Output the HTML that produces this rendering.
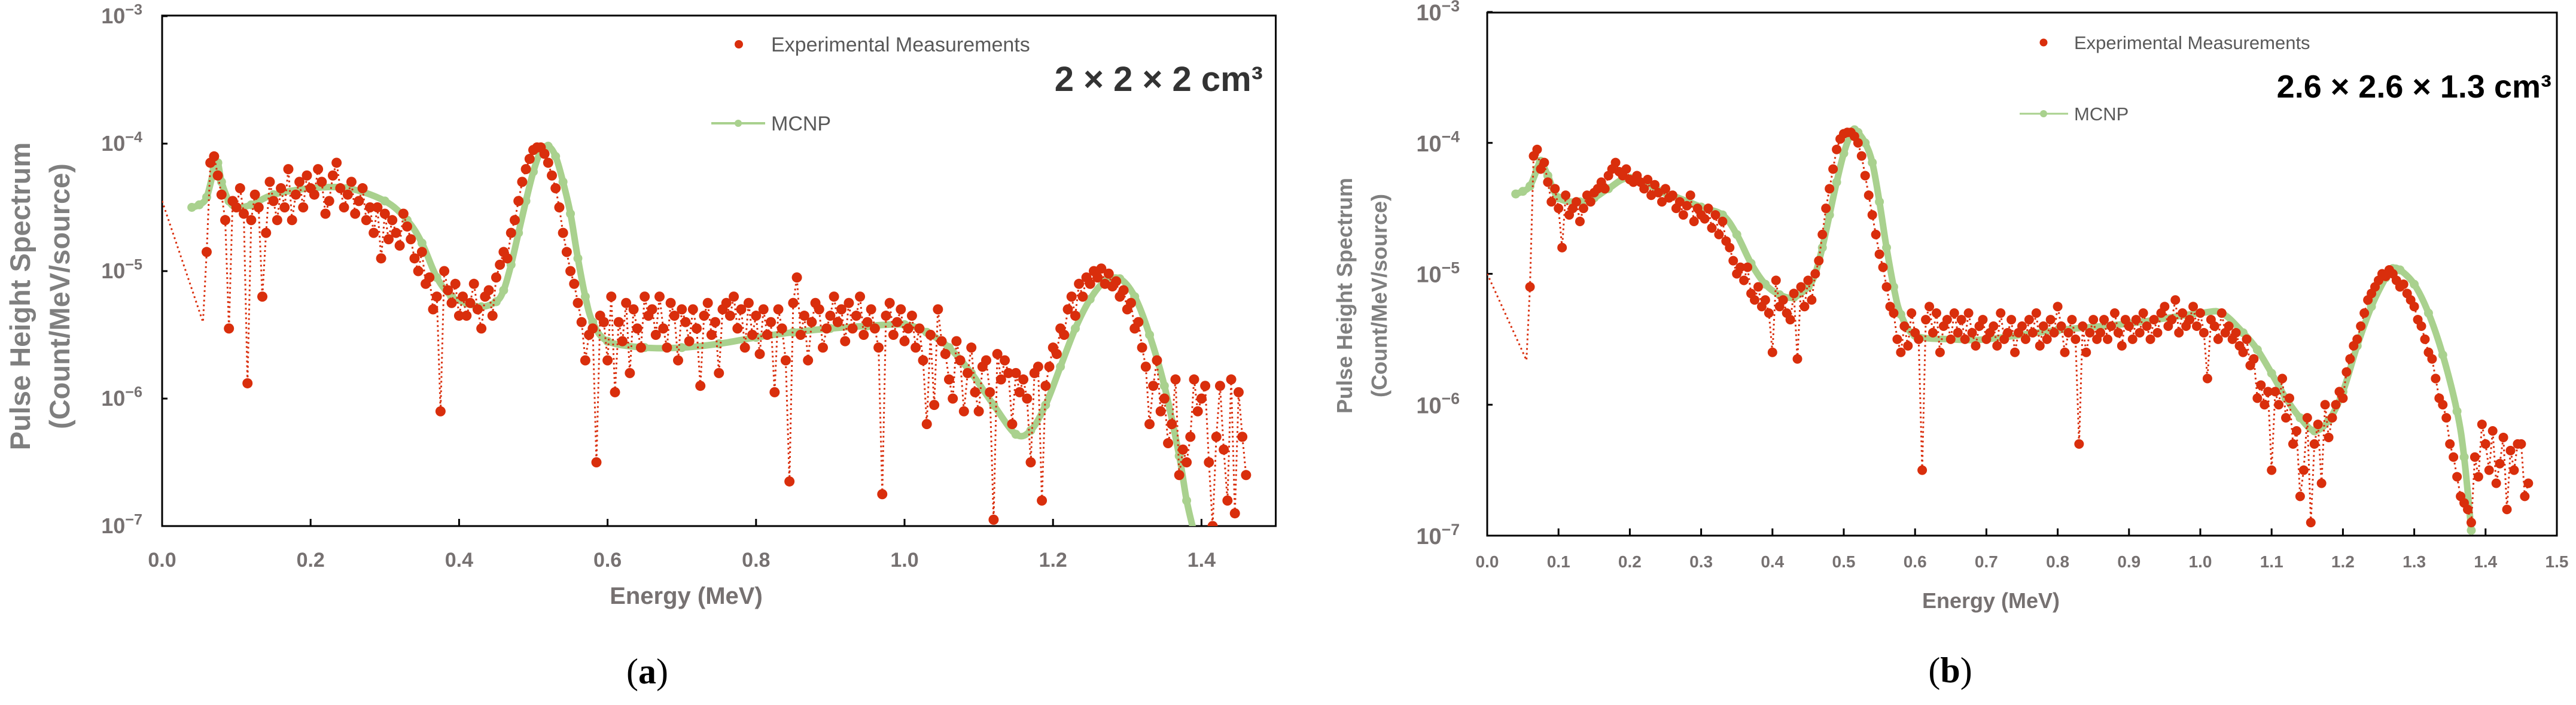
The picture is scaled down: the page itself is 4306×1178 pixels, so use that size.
<!DOCTYPE html>
<html><head><meta charset="utf-8">
<style>
html,body{margin:0;padding:0;background:#fff;}
body{width:4306px;height:1178px;overflow:hidden;position:relative;font-family:"Liberation Sans",sans-serif;}
svg{position:absolute;left:0;top:0;}
</style></head>
<body>
<svg id="fig" width="4306" height="1178" viewBox="0 0 4306 1178"></svg>
<script>
// ---------- Chart (a) data ----------
const aTickX = ["0.0","0.2","0.4","0.6","0.8","1.0","1.2","1.4"];
const aTickXVal = [0,0.2,0.4,0.6,0.8,1.0,1.2,1.4];
const aTickYExp = [-3,-4,-5,-6,-7];
const aMcnpE = [0.04,0.05,0.06,0.07,0.075,0.08,0.09,0.1,0.12,0.15,0.2,0.25,0.3,0.33,0.35,0.37,0.39,0.41,0.43,0.45,0.46,0.47,0.48,0.49,0.5,0.51,0.52,0.53,0.54,0.55,0.56,0.57,0.58,0.6,0.65,0.7,0.75,0.8,0.85,0.9,0.95,1.0,1.03,1.06,1.09,1.12,1.15,1.17,1.19,1.21,1.23,1.25,1.27,1.29,1.31,1.33,1.35,1.37,1.38,1.39];
const aMcnpLog = [-4.5,-4.48,-4.42,-4.2,-4.15,-4.3,-4.45,-4.5,-4.48,-4.4,-4.35,-4.35,-4.45,-4.6,-4.78,-5.05,-5.2,-5.25,-5.28,-5.24,-5.15,-4.95,-4.7,-4.45,-4.22,-4.06,-4.02,-4.1,-4.3,-4.55,-4.9,-5.2,-5.4,-5.55,-5.6,-5.6,-5.57,-5.52,-5.48,-5.45,-5.43,-5.42,-5.48,-5.6,-5.8,-6.05,-6.28,-6.25,-6.05,-5.75,-5.45,-5.22,-5.08,-5.06,-5.2,-5.5,-5.9,-6.45,-6.8,-7.05];
const aExpStart = 0.06, aExpStep = 0.005;
const aExpLog = [
-4.85,-4.15,-4.1,-4.25,-4.4,-4.6,-5.45,-4.45,-4.5,-4.35,
-4.55,-5.88,-4.6,-4.4,-4.5,-5.2,-4.7,-4.3,-4.45,-4.6,
-4.35,-4.5,-4.2,-4.6,-4.4,-4.3,-4.5,-4.25,-4.35,-4.4,
-4.2,-4.3,-4.55,-4.45,-4.25,-4.15,-4.35,-4.5,-4.4,-4.3,
-4.55,-4.45,-4.35,-4.6,-4.5,-4.7,-4.5,-4.9,-4.55,-4.75,
-4.6,-4.7,-4.8,-4.55,-4.65,-4.75,-4.9,-5.0,-4.85,-5.1,
-5.05,-5.3,-5.2,-6.1,-5.0,-5.15,-5.25,-5.1,-5.35,-5.2,
-5.35,-5.25,-5.1,-5.3,-5.45,-5.2,-5.15,-5.35,-5.05,-4.95,
-4.85,-4.9,-4.7,-4.6,-4.45,-4.3,-4.2,-4.12,-4.05,-4.03,
-4.03,-4.08,-4.15,-4.25,-4.35,-4.5,-4.7,-4.85,-5.0,-5.1,
-5.25,-5.4,-5.7,-5.5,-5.45,-6.5,-5.35,-5.4,-5.7,-5.2,
-5.95,-5.4,-5.55,-5.25,-5.8,-5.3,-5.45,-5.6,-5.2,-5.35,
-5.3,-5.5,-5.2,-5.45,-5.6,-5.25,-5.35,-5.7,-5.3,-5.4,
-5.55,-5.3,-5.45,-5.9,-5.35,-5.25,-5.5,-5.4,-5.8,-5.3,
-5.25,-5.35,-5.2,-5.45,-5.3,-5.6,-5.25,-5.5,-5.35,-5.65,
-5.3,-5.5,-5.4,-5.95,-5.3,-5.45,-5.7,-6.65,-5.25,-5.05,
-5.5,-5.35,-5.7,-5.4,-5.25,-5.3,-5.6,-5.45,-5.35,-5.2,
-5.4,-5.3,-5.55,-5.25,-5.45,-5.35,-5.2,-5.5,-5.4,-5.3,
-5.45,-5.6,-6.75,-5.35,-5.25,-5.5,-5.4,-5.3,-5.55,-5.45,
-5.35,-5.6,-5.45,-5.7,-6.2,-5.5,-6.05,-5.3,-5.55,-5.65,
-5.85,-6.0,-5.55,-5.7,-6.1,-5.8,-5.6,-5.95,-6.1,-5.75,
-5.7,-5.95,-6.95,-5.65,-5.85,-5.7,-5.8,-6.2,-5.8,-5.95,
-5.85,-6.0,-6.5,-5.8,-5.75,-6.8,-5.9,-5.75,-5.6,-5.65,
-5.45,-5.5,-5.3,-5.2,-5.35,-5.1,-5.2,-5.05,-5.1,-5.0,
-5.05,-4.98,-5.1,-5.02,-5.12,-5.08,-5.2,-5.15,-5.3,-5.25,
-5.45,-5.4,-5.6,-5.75,-6.2,-5.9,-5.7,-6.1,-6.0,-6.35,
-6.2,-5.85,-6.6,-6.4,-6.5,-6.3,-5.85,-6.1,-6.0,-5.9,
-6.5,-7.0,-6.3,-5.9,-6.4,-6.8,-5.85,-6.9,-5.95,-6.3,
-6.6];
const aLeadE = [0.0,0.055];
const aLeadLog = [-4.45,-5.4];

// ---------- Chart (b) data ----------
const bTickX = ["0.0","0.1","0.2","0.3","0.4","0.5","0.6","0.7","0.8","0.9","1.0","1.1","1.2","1.3","1.4","1.5"];
const bTickXVal = [0,0.1,0.2,0.3,0.4,0.5,0.6,0.7,0.8,0.9,1.0,1.1,1.2,1.3,1.4,1.5];
const bTickYExp = [-3,-4,-5,-6,-7];
const bMcnpE = [0.04,0.05,0.06,0.07,0.075,0.085,0.1,0.13,0.15,0.17,0.2,0.25,0.3,0.33,0.35,0.37,0.39,0.41,0.43,0.45,0.46,0.47,0.48,0.49,0.5,0.51,0.515,0.52,0.53,0.54,0.55,0.56,0.57,0.58,0.6,0.65,0.7,0.8,0.9,1.0,1.03,1.06,1.08,1.1,1.12,1.14,1.16,1.18,1.2,1.22,1.24,1.26,1.27,1.28,1.3,1.32,1.34,1.36,1.37,1.38];
const bMcnpLog = [-4.39,-4.37,-4.33,-4.2,-4.14,-4.25,-4.42,-4.45,-4.42,-4.35,-4.27,-4.38,-4.49,-4.55,-4.7,-4.92,-5.08,-5.16,-5.18,-5.1,-5.0,-4.8,-4.55,-4.3,-4.08,-3.93,-3.9,-3.92,-4.0,-4.15,-4.45,-4.8,-5.1,-5.31,-5.47,-5.5,-5.5,-5.43,-5.38,-5.3,-5.3,-5.45,-5.58,-5.76,-5.95,-6.1,-6.2,-6.12,-5.9,-5.55,-5.25,-5.03,-4.96,-4.97,-5.08,-5.3,-5.62,-6.05,-6.4,-6.96];
const bExpStart = 0.06, bExpStep = 0.005;
const bExpLog = [
-5.1,-4.1,-4.05,-4.2,-4.15,-4.3,-4.45,-4.35,-4.5,-4.8,
-4.4,-4.55,-4.5,-4.45,-4.6,-4.5,-4.4,-4.45,-4.38,-4.35,
-4.3,-4.35,-4.25,-4.2,-4.15,-4.22,-4.25,-4.2,-4.28,-4.3,
-4.25,-4.3,-4.35,-4.28,-4.4,-4.32,-4.38,-4.45,-4.35,-4.42,
-4.4,-4.5,-4.45,-4.55,-4.48,-4.4,-4.6,-4.5,-4.55,-4.58,
-4.5,-4.65,-4.55,-4.7,-4.6,-4.75,-4.8,-4.9,-5.0,-4.95,
-5.05,-4.95,-5.15,-5.2,-5.1,-5.25,-5.2,-5.3,-5.6,-5.05,
-5.25,-5.2,-5.3,-5.35,-5.15,-5.65,-5.1,-5.25,-5.05,-5.2,
-5.0,-4.9,-4.7,-4.5,-4.35,-4.2,-4.05,-3.97,-3.93,-3.92,
-3.92,-3.95,-4.0,-4.1,-4.25,-4.4,-4.55,-4.7,-4.85,-4.95,
-5.1,-5.25,-5.3,-5.5,-5.6,-5.4,-5.55,-5.3,-5.45,-5.5,
-6.5,-5.35,-5.25,-5.45,-5.3,-5.6,-5.4,-5.35,-5.5,-5.3,
-5.45,-5.35,-5.5,-5.3,-5.45,-5.55,-5.4,-5.35,-5.5,-5.45,
-5.4,-5.55,-5.3,-5.5,-5.45,-5.35,-5.6,-5.45,-5.4,-5.5,
-5.35,-5.45,-5.3,-5.55,-5.4,-5.5,-5.35,-5.45,-5.25,-5.4,
-5.6,-5.45,-5.35,-5.5,-6.3,-5.4,-5.6,-5.45,-5.35,-5.5,
-5.45,-5.35,-5.5,-5.4,-5.3,-5.45,-5.55,-5.35,-5.4,-5.5,
-5.35,-5.45,-5.3,-5.4,-5.5,-5.35,-5.45,-5.3,-5.25,-5.4,
-5.35,-5.2,-5.45,-5.3,-5.4,-5.35,-5.25,-5.4,-5.3,-5.45,
-5.8,-5.35,-5.4,-5.5,-5.3,-5.45,-5.4,-5.5,-5.45,-5.55,
-5.6,-5.5,-5.7,-5.65,-5.95,-5.85,-6.0,-5.9,-6.5,-5.9,
-6.0,-5.8,-6.1,-5.95,-6.3,-6.2,-6.7,-6.5,-6.1,-6.9,
-6.3,-6.15,-6.6,-6.0,-6.25,-6.1,-6.0,-5.9,-5.95,-5.75,
-5.65,-5.55,-5.5,-5.4,-5.3,-5.2,-5.15,-5.1,-5.05,-5.0,
-5.02,-4.97,-5.0,-5.05,-5.1,-5.08,-5.15,-5.2,-5.25,-5.35,
-5.4,-5.5,-5.6,-5.65,-5.8,-5.95,-6.0,-6.1,-6.3,-6.4,
-6.55,-6.7,-6.75,-6.8,-6.9,-6.4,-6.55,-6.15,-6.3,-6.5,
-6.2,-6.6,-6.45,-6.25,-6.8,-6.35,-6.5,-6.3,-6.3,-6.7,
-6.6];
const bLeadE = [0.0,0.055];
const bLeadLog = [-5.0,-5.66];

const NS = "http://www.w3.org/2000/svg";
const svg = document.getElementById("fig");
function mk(tag, attrs, parent){
  const e = document.createElementNS(NS, tag);
  for (const k in attrs) e.setAttribute(k, attrs[k]);
  (parent||svg).appendChild(e);
  return e;
}
const RED = "#d92e0c", GREEN = "#a9d18e", GRAY = "#767171";

function smoothPath(p){
  let d = "M" + p[0][0].toFixed(1) + "," + p[0][1].toFixed(1);
  for (let i = 0; i < p.length - 1; i++){
    const p0 = p[Math.max(0, i - 1)], p1 = p[i], p2 = p[i + 1], p3 = p[Math.min(p.length - 1, i + 2)];
    const c1x = p1[0] + (p2[0] - p0[0]) / 6, c1y = p1[1] + (p2[1] - p0[1]) / 6;
    const c2x = p2[0] - (p3[0] - p1[0]) / 6, c2y = p2[1] - (p3[1] - p1[1]) / 6;
    d += " C" + c1x.toFixed(1) + "," + c1y.toFixed(1) + " " + c2x.toFixed(1) + "," + c2y.toFixed(1) + " " + p2[0].toFixed(1) + "," + p2[1].toFixed(1);
  }
  return d;
}

function drawChart(c){
  const g = mk("g", {});
  
  
  const sx = e => c.x0 + e * c.pxPerMeV;
  const sy = l => c.yTop + (-3 - l) * c.decade;
  const bottom = sy(-7);
  const right = sx(1.5);
  const defs = mk("defs", {}, g);
  const cp = mk("clipPath", {id: c.id + "clip"}, defs);
  mk("rect", {x: c.x0, y: c.frameTop, width: right - c.x0, height: bottom - c.frameTop}, cp);

  const fr = mk("rect", {x: c.x0, y: c.frameTop, width: right - c.x0, height: bottom - c.frameTop, fill: "none", stroke: "#000", "stroke-width": 3}, g);
  
  

  c.tickY.forEach(ex => {
    const y = sy(ex);
    mk("line", {x1: c.x0, x2: c.x0 + 9, y1: y, y2: y, stroke: "#000", "stroke-width": 3}, g);
    const t = mk("text", {x: c.yLabX, y: y + c.yLabDy, "text-anchor": "end", fill: GRAY, "font-size": c.yLabFs, "font-weight": "bold", "font-family": "Liberation Sans, sans-serif"}, g);
    
    
    t.appendChild(document.createTextNode("10"));
    const sp = mk("tspan", {dy: -c.yLabFs * 0.4, "font-size": c.yLabFs * 0.7}, t);
    sp.textContent = "\u2212" + Math.abs(ex);
  });
  c.tickXVal.forEach((v, i) => {
    const x = sx(v);
    if (i > 0) mk("line", {x1: x, x2: x, y1: bottom, y2: bottom - 12, stroke: "#000", "stroke-width": 3}, g);
    const t = mk("text", {x: x, y: c.xLabY, "text-anchor": "middle", fill: GRAY, "font-size": c.xLabFs, "font-weight": "bold", "font-family": "Liberation Sans, sans-serif"}, g);
    
    
    t.textContent = c.tickX[i];
  });

  const pg = mk("g", {"clip-path": "url(#" + c.id + "clip)"}, g);
  const mp = c.mcnpE.map((e, i) => [sx(e), sy(c.mcnpLog[i])]);
  const ml = mk("path", {d: smoothPath(mp), fill: "none", stroke: GREEN, "stroke-width": 11, "stroke-linejoin": "round", "stroke-linecap": "round"}, pg);
  
  
  c.mcnpE.forEach((e, i) => {
    const d = mk("circle", {cx: sx(e), cy: sy(c.mcnpLog[i]), r: 7.5, fill: GREEN}, pg);
    
    
  });
  const epts = [];
  c.leadE.forEach((e, i) => epts.push(sx(e).toFixed(1) + "," + sy(c.leadLog[i]).toFixed(1)));
  c.expLog.forEach((l, i) => epts.push(sx(c.expStart + i * c.expStep).toFixed(1) + "," + sy(l).toFixed(1)));
  const el = mk("polyline", {points: epts.join(" "), fill: "none", stroke: RED, "stroke-width": 3, "stroke-dasharray": "3 5"}, pg);
  
  
  c.expLog.forEach((l, i) => {
    const d = mk("circle", {cx: sx(c.expStart + i * c.expStep), cy: sy(l), r: c.dotR, fill: RED}, pg);
    
    
  });
}

drawChart({id:"a", x0:271, pxPerMeV:1241, yTop:27, decade:213, frameTop:26,
  tickX:aTickX, tickXVal:aTickXVal, tickY:aTickYExp, yLabX:238, yLabDy:12, yLabFs:36, xLabY:947, xLabFs:34,
  mcnpE:aMcnpE, mcnpLog:aMcnpLog, expStart:aExpStart, expStep:aExpStep, expLog:aExpLog, leadE:aLeadE, leadLog:aLeadLog, dotR:8.5});
drawChart({id:"b", x0:2486, pxPerMeV:1192, yTop:20, decade:218.75, frameTop:21,
  tickX:bTickX, tickXVal:bTickXVal, tickY:bTickYExp, yLabX:2440, yLabDy:14, yLabFs:38, xLabY:948, xLabFs:28,
  mcnpE:bMcnpE, mcnpLog:bMcnpLog, expStart:bExpStart, expStep:bExpStep, expLog:bExpLog, leadE:bLeadE, leadLog:bLeadLog, dotR:8});
</script>
<svg width="4306" height="1178" viewBox="0 0 4306 1178" style="pointer-events:none">
  <g font-family="Liberation Sans, sans-serif" font-weight="bold" fill="#7f7f7f">
    <text transform="translate(50,495) rotate(-90)" text-anchor="middle" font-size="47">Pulse Height Spectrum</text>
    <text transform="translate(116,495) rotate(-90)" text-anchor="middle" font-size="47">(Count/MeV/source)</text>
  </g>
  <text x="1147" y="1009" text-anchor="middle" font-family="Liberation Sans, sans-serif" font-weight="bold" font-size="40" fill="#767171">Energy (MeV)</text>
  <g font-family="Liberation Sans, sans-serif" font-size="34" fill="#595959">
    <circle cx="1235" cy="74" r="7" fill="#d92e0c"/>
    <text x="1289" y="86">Experimental Measurements</text>
    <line x1="1189" x2="1279" y1="206" y2="206" stroke="#a9d18e" stroke-width="4"/>
    <circle cx="1234" cy="206" r="6" fill="#a9d18e"/>
    <text x="1289" y="218">MCNP</text>
  </g>
  <text x="2111" y="152" text-anchor="end" font-family="Liberation Sans, sans-serif" font-weight="bold" font-size="58" fill="#333">2 × 2 × 2 cm³</text>
  <text x="1082" y="1142" text-anchor="middle" font-family="Liberation Serif, serif" font-size="60" fill="#000">(<tspan font-weight="bold">a</tspan>)</text>

  <g font-family="Liberation Sans, sans-serif" font-weight="bold" fill="#7f7f7f">
    <text transform="translate(2260,494) rotate(-90)" text-anchor="middle" font-size="36">Pulse Height Spectrum</text>
    <text transform="translate(2318,494) rotate(-90)" text-anchor="middle" font-size="36">(Count/MeV/source)</text>
  </g>
  <text x="3328" y="1016" text-anchor="middle" font-family="Liberation Sans, sans-serif" font-weight="bold" font-size="36" fill="#767171">Energy (MeV)</text>
  <g font-family="Liberation Sans, sans-serif" font-size="31" fill="#595959">
    <circle cx="3416" cy="71" r="6.5" fill="#d92e0c"/>
    <text x="3467" y="82">Experimental Measurements</text>
    <line x1="3376" x2="3457" y1="190" y2="190" stroke="#a9d18e" stroke-width="3"/>
    <circle cx="3416" cy="190" r="6" fill="#a9d18e"/>
    <text x="3467" y="201">MCNP</text>
  </g>
  <text x="4265" y="163" text-anchor="end" font-family="Liberation Sans, sans-serif" font-weight="bold" font-size="54" fill="#000">2.6 × 2.6 × 1.3 cm³</text>
  <text x="3260" y="1140" text-anchor="middle" font-family="Liberation Serif, serif" font-size="60" fill="#000">(<tspan font-weight="bold">b</tspan>)</text>
</svg>
</body></html>
